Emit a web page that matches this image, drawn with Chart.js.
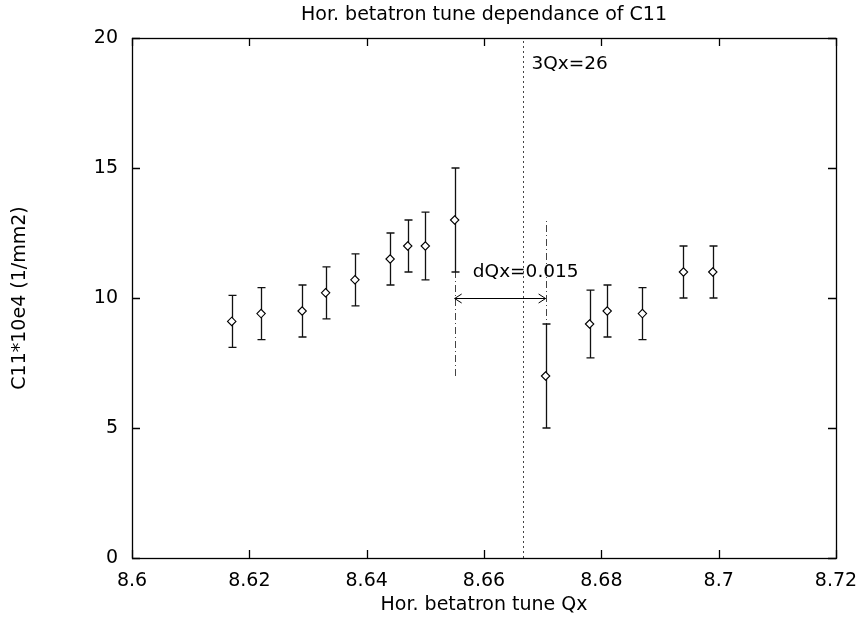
<!DOCTYPE html>
<html><head><meta charset="utf-8">
<script src="https://cdn.jsdelivr.net/npm/chart.js@4/dist/chart.umd.min.js"></script>
<style>html,body{margin:0;padding:0;background:#fff}</style>
</head><body>
<canvas id="c" width="860" height="620"></canvas>
<script>
// ---- data ----
const qx      = [8.617, 8.622, 8.629, 8.633, 8.638, 8.644, 8.647, 8.650, 8.655, 8.6705, 8.678, 8.681, 8.687, 8.694, 8.699];
const c11     = [9.1, 9.4, 9.5, 10.2, 10.7, 11.5, 12.0, 12.0, 13.0, 7.0, 9.0, 9.5, 9.4, 11.0, 11.0];
const c11Low  = [8.1, 8.4, 8.5, 9.2, 9.7, 10.5, 11.0, 10.7, 11.0, 5.0, 7.7, 8.5, 8.4, 10.0, 10.0];
const c11High = [10.1, 10.4, 10.5, 11.2, 11.7, 12.5, 13.0, 13.3, 15.0, 9.0, 10.3, 10.5, 10.4, 12.0, 12.0];

const xTicks = [8.6, 8.62, 8.64, 8.66, 8.68, 8.7, 8.72];
const xTickLabels = ['8.6', '8.62', '8.64', '8.66', '8.68', '8.7', '8.72'];
const yTicks = [0, 5, 10, 15, 20];
const yTickLabels = ['0', '5', '10', '15', '20'];

const resonanceQx = 8.6667;           // 3Qx = 26
const resonanceLabel = '3Qx=26';
const resonanceLabelPos = [8.6681, 19.0];
const markerQx   = [8.655, 8.6705];   // dash-dot markers
const markerFrom = [7, 5];
const markerTo   = [15, 13];
const arrowY = 10;
const dqLabel = 'dQx=0.015';
const dqLabelPos = [8.6581, 11.0];

const chartTitle = 'Hor. betatron tune dependance of C11';
const xTitle = 'Hor. betatron tune Qx';
const yTitle = 'C11*10e4 (1/mm2)';

Chart.defaults.font.family = '"DejaVu Sans", sans-serif';
Chart.defaults.color = '#000';

const decor = {
  id: 'decor',
  beforeDatasetsDraw(chart) {
    const ctx = chart.ctx, xs = chart.scales.x, ys = chart.scales.y;
    ctx.save();
    // resonance dotted line
    ctx.strokeStyle = '#444'; ctx.lineWidth = 1; ctx.setLineDash([2, 3]);
    let px = Math.round(xs.getPixelForValue(resonanceQx)) + 0.5;
    ctx.beginPath(); ctx.moveTo(px, ys.getPixelForValue(0)); ctx.lineTo(px, ys.getPixelForValue(20)); ctx.stroke();
    // dash-dot markers
    ctx.strokeStyle = '#444'; ctx.setLineDash([7, 3, 1, 3]);
    for (let i = 0; i < markerQx.length; i++) {
      const mx = Math.round(xs.getPixelForValue(markerQx[i])) + 0.5;
      ctx.beginPath(); ctx.moveTo(mx, ys.getPixelForValue(markerFrom[i])); ctx.lineTo(mx, ys.getPixelForValue(markerTo[i])); ctx.stroke();
    }
    // arrow
    ctx.setLineDash([]); ctx.strokeStyle = '#000';
    const ax1 = xs.getPixelForValue(markerQx[0]), ax2 = xs.getPixelForValue(markerQx[1]);
    const ay = Math.round(ys.getPixelForValue(arrowY)) + 0.5;
    ctx.beginPath(); ctx.moveTo(ax1, ay); ctx.lineTo(ax2, ay);
    ctx.moveTo(ax1 + 7, ay - 4.5); ctx.lineTo(ax1, ay); ctx.lineTo(ax1 + 7, ay + 4.5);
    ctx.moveTo(ax2 - 7, ay - 4.5); ctx.lineTo(ax2, ay); ctx.lineTo(ax2 - 7, ay + 4.5);
    ctx.stroke();
    // error bars
    ctx.strokeStyle = '#111'; ctx.lineWidth = 1.3;
    for (let i = 0; i < qx.length; i++) {
      const ex = Math.round(xs.getPixelForValue(qx[i])) + 0.5;
      const yl = ys.getPixelForValue(c11Low[i]), yh = ys.getPixelForValue(c11High[i]);
      ctx.beginPath();
      ctx.moveTo(ex, yl); ctx.lineTo(ex, yh);
      ctx.moveTo(ex - 4, yl); ctx.lineTo(ex + 4, yl);
      ctx.moveTo(ex - 4, yh); ctx.lineTo(ex + 4, yh);
      ctx.stroke();
    }
    ctx.restore();
  },
  afterDraw(chart) {
    const ctx = chart.ctx, xs = chart.scales.x, ys = chart.scales.y, a = chart.chartArea;
    ctx.save();
    ctx.strokeStyle = '#000'; ctx.lineWidth = 1.3; ctx.setLineDash([]);
    ctx.strokeRect(Math.round(a.left) + 0.5, Math.round(a.top) + 0.5, Math.round(a.right - a.left), Math.round(a.bottom - a.top));
    const tl = 8;
    ctx.beginPath();
    xTicks.forEach(v => {
      const p = Math.round(xs.getPixelForValue(v)) + 0.5;
      ctx.moveTo(p, a.bottom); ctx.lineTo(p, a.bottom - tl);
      ctx.moveTo(p, a.top); ctx.lineTo(p, a.top + tl);
    });
    yTicks.forEach(v => {
      const p = Math.round(ys.getPixelForValue(v)) + 0.5;
      ctx.moveTo(a.left, p); ctx.lineTo(a.left + tl, p);
      ctx.moveTo(a.right, p); ctx.lineTo(a.right - tl, p);
    });
    ctx.stroke();
    // annotation texts
    ctx.fillStyle = '#000'; ctx.font = '18.5px "DejaVu Sans"'; ctx.textBaseline = 'middle'; ctx.textAlign = 'left';
    ctx.fillText(resonanceLabel, xs.getPixelForValue(resonanceLabelPos[0]), ys.getPixelForValue(resonanceLabelPos[1]));
    ctx.fillText(dqLabel, xs.getPixelForValue(dqLabelPos[0]), ys.getPixelForValue(dqLabelPos[1]));
    ctx.restore();
  }
};

new Chart(document.getElementById('c'), {
  type: 'scatter',
  data: {
    datasets: [{
      data: qx.map((v, i) => ({ x: v, y: c11[i] })),
      pointStyle: 'rectRot', pointRadius: 4.2, pointHoverRadius: 4.2,
      borderColor: '#000', backgroundColor: '#fff', borderWidth: 1.1, showLine: false
    }]
  },
  options: {
    responsive: false, animation: false, events: [],
    layout: { padding: 0 },
    plugins: {
      legend: { display: false }, tooltip: { enabled: false },
      title: { display: true, text: chartTitle, fullSize: false, color: '#000',
               font: { size: 19, weight: 'normal' }, padding: { top: 4, bottom: 11.2 } }
    },
    scales: {
      x: {
        type: 'linear', min: 8.6, max: 8.72,
        afterBuildTicks: s => { s.ticks = xTicks.map(v => ({ value: v })); },
        afterFit: s => { s.height = 62; s.paddingLeft = 0; s.paddingRight = 0; },
        grid: { display: false, drawTicks: false }, border: { display: false },
        ticks: { font: { size: 19 }, color: '#000', padding: 12, maxRotation: 0, autoSkip: false,
                 callback: (v, i) => xTickLabels[i] },
        title: { display: true, text: xTitle, color: '#000', font: { size: 19 }, padding: { top: 0, bottom: 4 } }
      },
      y: {
        type: 'linear', min: 0, max: 20, position: 'left',
        afterBuildTicks: s => { s.ticks = yTicks.map(v => ({ value: v })); },
        afterFit: s => { s.width = 132; },
        grid: { display: false, drawTicks: false }, border: { display: false },
        ticks: { font: { size: 19 }, color: '#000', padding: 14, callback: (v, i) => yTickLabels[i] },
        title: { display: true, text: yTitle, color: '#000', font: { size: 19 }, padding: { top: 9, bottom: 0 } }
      },
      yR: {
        type: 'linear', position: 'right', display: true, min: 0, max: 20,
        afterFit: s => { s.width = 24; },
        grid: { display: false, drawTicks: false }, border: { display: false }, ticks: { display: false }
      }
    }
  },
  plugins: [decor]
});
</script>
</body></html>
